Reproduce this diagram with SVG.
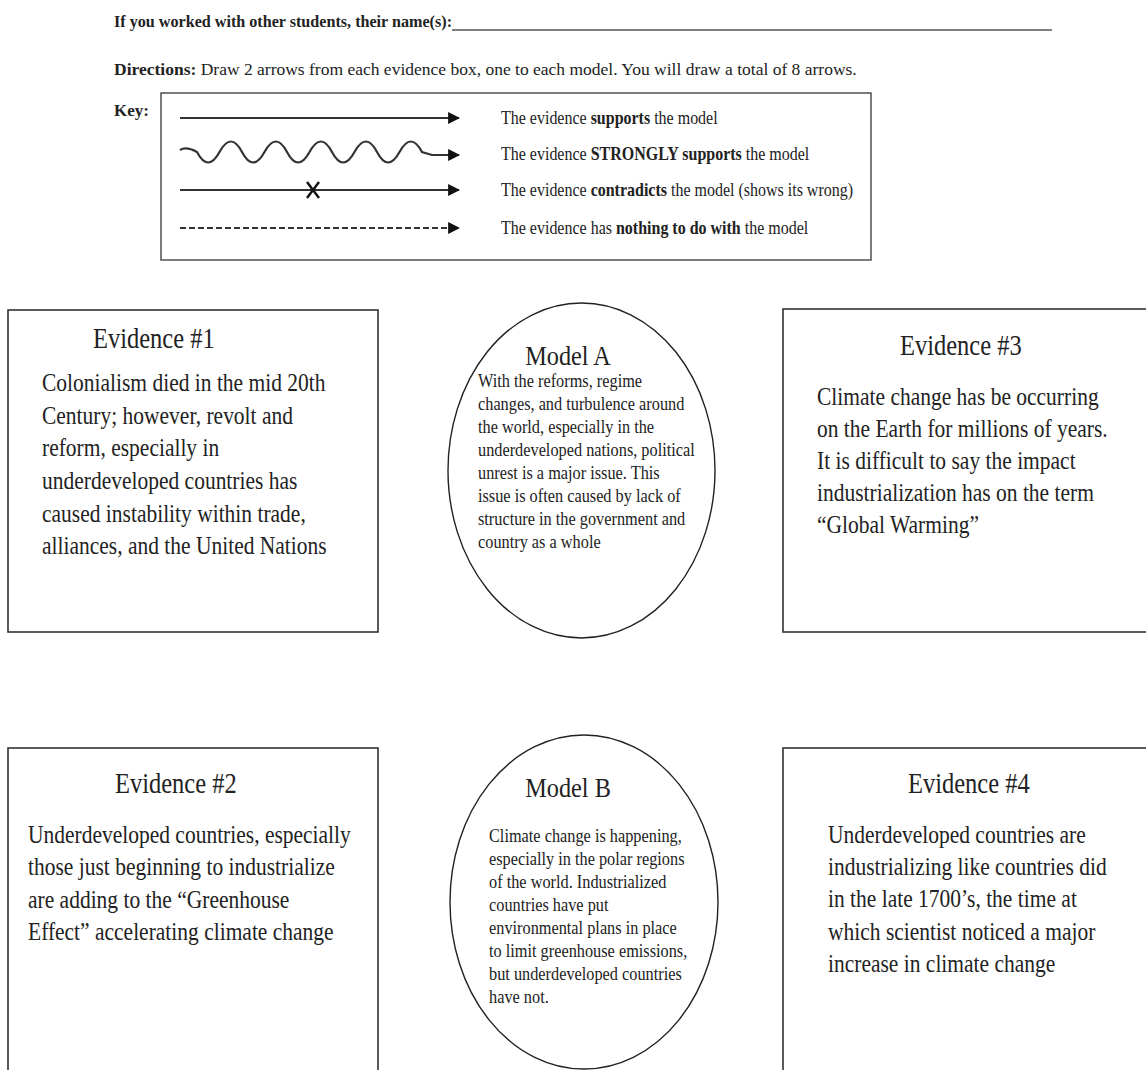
<svg xmlns="http://www.w3.org/2000/svg" width="1146" height="1070" viewBox="0 0 1146 1070">
<style>
.hdr{font-family:"Liberation Serif","Times New Roman",serif;font-size:17px;fill:#222}
.dir{font-size:17.5px}
.b{font-weight:bold}
.key{font-family:"Liberation Serif","Times New Roman",serif;font-size:16px;fill:#222}
.ttl{font-family:"Liberation Serif","Times New Roman",serif;font-size:24.5px;fill:#222}
.body{font-family:"Liberation Serif","Times New Roman",serif;font-size:21.5px;fill:#222}
.mttl{font-family:"Liberation Serif","Times New Roman",serif;font-size:24.3px;fill:#222}
.mbody{font-family:"Liberation Serif","Times New Roman",serif;font-size:16.3px;fill:#222}
.box{fill:#fff;stroke:#333;stroke-width:1.6}
.ell{fill:#fff;stroke:#222;stroke-width:1.4}
.ka{fill:none;stroke:#333;stroke-width:2.2}
</style>
<defs>
<marker id="ah" viewBox="0 0 10 10" refX="9" refY="5" markerWidth="5.5" markerHeight="5.5" markerUnits="strokeWidth" orient="auto">
<path d="M0,0 L10,5 L0,10 z" fill="#111"/>
</marker>
</defs>
<rect width="1146" height="1070" fill="#fff"/>

<g id="header">
<text class="hdr b" x="114" y="27" textLength="338" lengthAdjust="spacingAndGlyphs">If you worked with other students, their name(s):</text>
<line x1="452" y1="30" x2="1052" y2="30" stroke="#555" stroke-width="1.3"/>
<text class="hdr dir" x="114" y="75"><tspan class="b">Directions:</tspan> Draw 2 arrows from each evidence box, one to each model. You will draw a total of 8 arrows.</text>
<text class="hdr b" x="114" y="116">Key:</text>
</g>

<g id="key">
<rect x="161" y="93" width="710" height="167" fill="none" stroke="#444" stroke-width="1.4"/>
<g id="key-arrows">
<line class="ka" x1="180" y1="118" x2="459" y2="118" marker-end="url(#ah)"/>
<path class="ka" d="M180,150 Q186,146 197,152 Q208,173 219.5,152 T242,152 T264.5,152 T287,152 T309.5,152 T332,152 T354.5,152 T377,152 T399.5,152 T422,152 L432,155 L459,155" marker-end="url(#ah)"/>
<line class="ka" x1="180" y1="190" x2="459" y2="190" marker-end="url(#ah)"/>
<path d="M307,182 L319,198 M319,182 L307,198" stroke="#111" stroke-width="2.4"/>
<line class="ka" x1="180" y1="228" x2="459" y2="228" stroke-dasharray="6,3" marker-end="url(#ah)"/>
</g>
<text class="key" transform="translate(501,124) scale(1,1.2)">The evidence <tspan class="b">supports</tspan> the model</text>
<text class="key" transform="translate(501,160) scale(1,1.2)">The evidence <tspan class="b">STRONGLY supports</tspan> the model</text>
<text class="key" transform="translate(501,196) scale(1,1.2)">The evidence <tspan class="b">contradicts</tspan> the model (shows its wrong)</text>
<text class="key" transform="translate(501,234) scale(1,1.2)">The evidence has <tspan class="b">nothing to do with</tspan> the model</text>
</g>

<g id="evidence1">
<rect class="box" x="8" y="310" width="370" height="322"/>
<text class="ttl" transform="translate(93,348) scale(1,1.22)">Evidence #1</text>
<text class="body" transform="translate(42,391) scale(1,1.22)">
<tspan x="0" y="0">Colonialism died in the mid 20th</tspan>
<tspan x="0" dy="26.8">Century; however, revolt and</tspan>
<tspan x="0" dy="26.8">reform, especially in</tspan>
<tspan x="0" dy="26.8">underdeveloped countries has</tspan>
<tspan x="0" dy="26.8">caused instability within trade,</tspan>
<tspan x="0" dy="26.8">alliances, and the United Nations</tspan>
</text>
</g>

<g id="modelA">
<ellipse class="ell" cx="581.5" cy="470.5" rx="133.5" ry="167.5"/>
<text class="mttl" text-anchor="middle" transform="translate(568,365) scale(1,1.15)">Model A</text>
<text class="mbody" transform="translate(478,387) scale(1,1.2)">
<tspan x="0" y="0">With the reforms, regime</tspan>
<tspan x="0" dy="19.2">changes, and turbulence around</tspan>
<tspan x="0" dy="19.2">the world, especially in the</tspan>
<tspan x="0" dy="19.2">underdeveloped nations, political</tspan>
<tspan x="0" dy="19.2">unrest is a major issue.  This</tspan>
<tspan x="0" dy="19.2">issue is often caused by lack of</tspan>
<tspan x="0" dy="19.2">structure in the government and</tspan>
<tspan x="0" dy="19.2">country as a whole</tspan>
</text>
</g>

<g id="evidence3">
<rect class="box" x="783" y="309" width="370" height="323"/>
<text class="ttl" transform="translate(900,355) scale(1,1.22)">Evidence #3</text>
<text class="body" transform="translate(817,405) scale(1,1.22)">
<tspan x="0" y="0">Climate change has be occurring</tspan>
<tspan x="0" dy="26.2">on the Earth for millions of years.</tspan>
<tspan x="0" dy="26.2">It is difficult to say the impact</tspan>
<tspan x="0" dy="26.2">industrialization has on the term</tspan>
<tspan x="0" dy="26.2">“Global Warming”</tspan>
</text>
</g>

<g id="evidence2">
<rect class="box" x="8" y="748" width="370" height="340"/>
<text class="ttl" transform="translate(115,793) scale(1,1.22)">Evidence #2</text>
<text class="body" transform="translate(28,843) scale(1,1.22)">
<tspan x="0" y="0">Underdeveloped countries, especially</tspan>
<tspan x="0" dy="26.5">those just beginning to industrialize</tspan>
<tspan x="0" dy="26.5">are adding to the “Greenhouse</tspan>
<tspan x="0" dy="26.5">Effect” accelerating climate change</tspan>
</text>
</g>

<g id="modelB">
<ellipse class="ell" cx="584" cy="902" rx="134" ry="167"/>
<text class="mttl" text-anchor="middle" transform="translate(568,797) scale(1,1.15)">Model B</text>
<text class="mbody" transform="translate(489,842) scale(1,1.2)">
<tspan x="0" y="0">Climate change is happening,</tspan>
<tspan x="0" dy="19.2">especially in the polar regions</tspan>
<tspan x="0" dy="19.2">of the world.  Industrialized</tspan>
<tspan x="0" dy="19.2">countries have put</tspan>
<tspan x="0" dy="19.2">environmental plans in place</tspan>
<tspan x="0" dy="19.2">to limit greenhouse emissions,</tspan>
<tspan x="0" dy="19.2">but underdeveloped countries</tspan>
<tspan x="0" dy="19.2">have not.</tspan>
</text>
</g>

<g id="evidence4">
<rect class="box" x="783" y="748" width="370" height="340"/>
<text class="ttl" transform="translate(908,793) scale(1,1.22)">Evidence #4</text>
<text class="body" transform="translate(828,843) scale(1,1.22)">
<tspan x="0" y="0">Underdeveloped countries are</tspan>
<tspan x="0" dy="26.4">industrializing like countries did</tspan>
<tspan x="0" dy="26.4">in the late 1700’s, the time at</tspan>
<tspan x="0" dy="26.4">which scientist noticed a major</tspan>
<tspan x="0" dy="26.4">increase in climate change</tspan>
</text>
</g>

<g id="connectors"></g>
</svg>
